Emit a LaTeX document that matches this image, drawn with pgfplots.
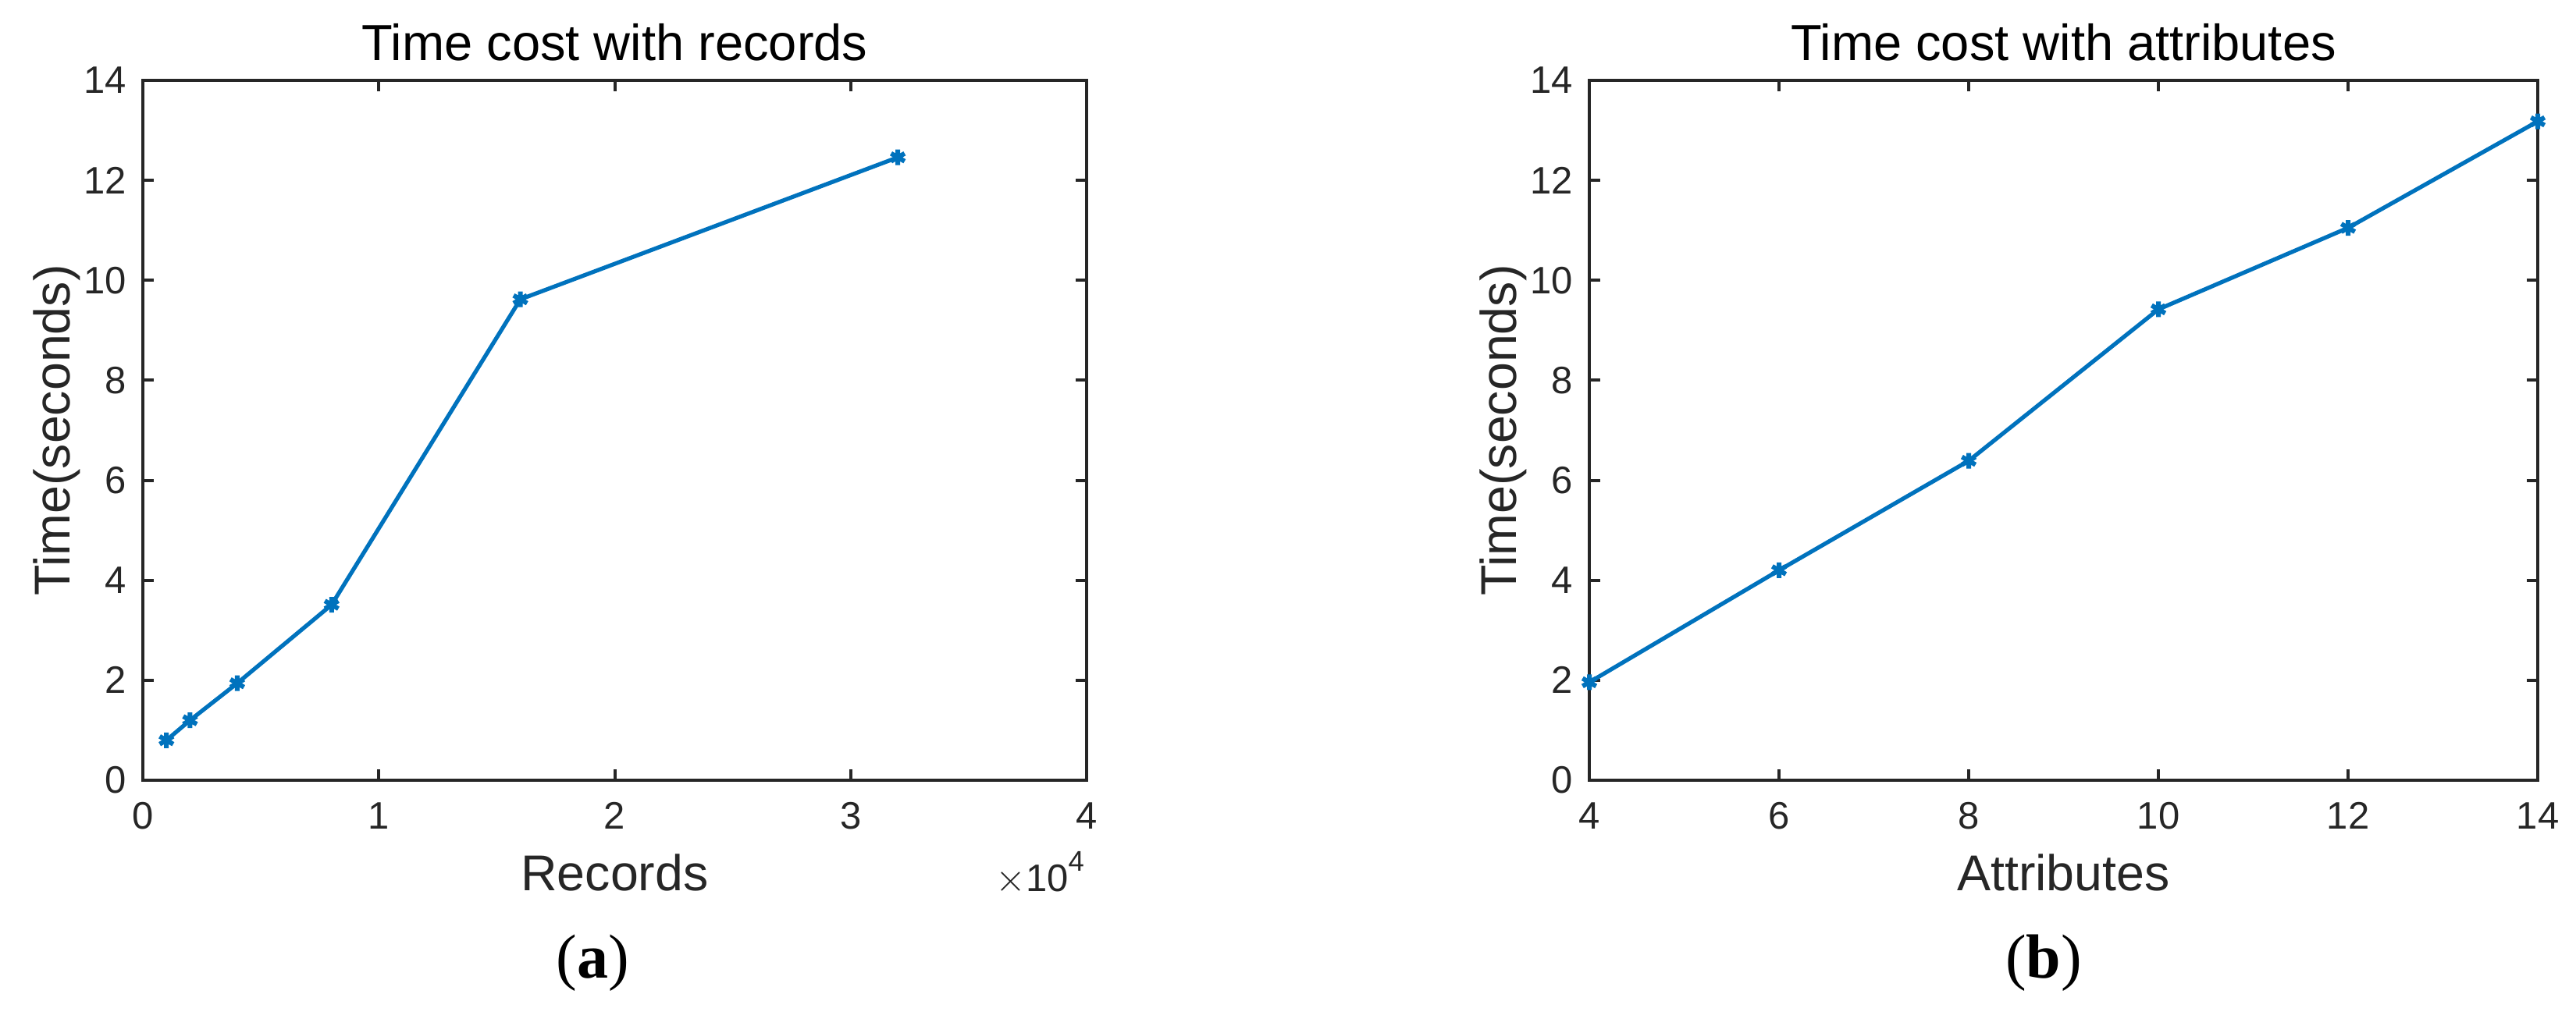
\documentclass[border=0pt]{standalone}
\usepackage{fontspec}
\setmainfont{Liberation Sans}
\newfontfamily\capfont{Liberation Serif}
\usepackage{pgfplots}
\pgfplotsset{compat=1.18}
\definecolor{mblue}{HTML}{0072BD}
\definecolor{axgray}{HTML}{262626}

\pgfplotsset{
  matlab/.style={
    scale only axis, anchor=south west,
    height=179.4pt,
    axis line style={draw=axgray, line width=0.8pt},
    tick style={draw=axgray, line width=0.8pt},
    tick align=inside, major tick length=2.8pt,
    /pgf/number format/assume math mode=true,
    ticklabel style={font=\fontsize{9.8}{11}\selectfont, text=axgray},
    xticklabel style={anchor=base, yshift=-12.4pt},
    yticklabel style={anchor=east, inner sep=0pt, xshift=-4pt},
    ymin=0, ymax=14, ytick={0,2,...,14},
    every axis title shift=0pt,
    title style={at={(axis description cs:0.5,1)}, anchor=base, yshift=5.2pt,
                 font=\fontsize{13}{15}\selectfont, text=black},
    xlabel style={at={(axis description cs:0.5,0)}, anchor=base, yshift=-28.2pt,
                  font=\fontsize{12.9}{15}\selectfont, text=axgray},
    ylabel style={at={(axis description cs:-0.077,0.5)}, anchor=base,
                  font=\fontsize{12.9}{15}\selectfont, text=axgray},
    ylabel={Time(seconds)},
    clip=false,
  },
  mline/.style={color=mblue, line width=1.05pt, mark=asterisk,
                mark size=2pt, mark options={line width=1.2pt}},
}

\begin{document}
\begin{tikzpicture}
\useasboundingbox (0,0) rectangle (660pt,262.8pt);

\begin{axis}[matlab, at={(36.6pt,62.8pt)}, width=241.8pt,
    xmin=0, xmax=40000, xtick={0,10000,20000,30000,40000},
    xticklabels={0,1,2,3,4}, scaled x ticks=false,
    title={Time cost with records}, xlabel={Records}]
\addplot[mline] coordinates {(1000,0.80) (2000,1.20) (4000,1.94) (8000,3.51) (16000,9.62) (32000,12.46)};
\node[anchor=base east, yshift=-28.4pt, xshift=-0.4pt, inner sep=0pt, text=axgray,
      font=\fontsize{9.8}{11}\selectfont] at (rel axis cs:1,0)
      {$\times$10\raisebox{5.2pt}{\fontsize{7.3}{8}\selectfont 4}};
\end{axis}

\begin{axis}[matlab, at={(407.2pt,62.8pt)}, width=243pt,
    xmin=4, xmax=14, xtick={4,6,...,14},
    title={Time cost with attributes}, xlabel={Attributes}]
\addplot[mline] coordinates {(4,1.96) (6,4.20) (8,6.39) (10,9.42) (12,11.05) (14,13.18)};
\end{axis}

\node[anchor=base, font=\capfont\fontsize{16}{19}\selectfont] at (151.8pt,12.2pt) {(\textbf{a})};
\node[anchor=base, font=\capfont\fontsize{16}{19}\selectfont] at (523.6pt,12.2pt) {(\textbf{b})};
\end{tikzpicture}
\end{document}
